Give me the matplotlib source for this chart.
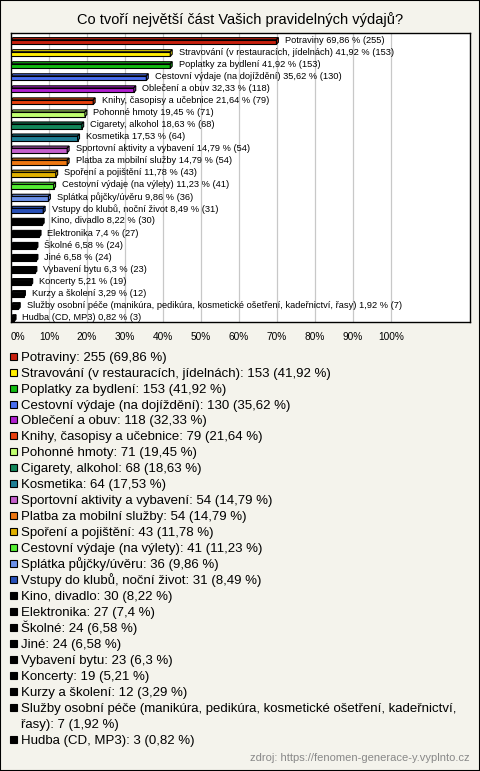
import matplotlib
matplotlib.use('Agg')
import matplotlib.pyplot as plt
from matplotlib.patches import Rectangle, Polygon

plt.rcParams['font.family'] = ['Liberation Sans', 'DejaVu Sans']

categories = [
    'Potraviny', 'Stravování (v restauracích, jídelnách)', 'Poplatky za bydlení',
    'Cestovní výdaje (na dojíždění)', 'Oblečení a obuv', 'Knihy, časopisy a učebnice',
    'Pohonné hmoty', 'Cigarety, alkohol', 'Kosmetika', 'Sportovní aktivity a vybavení',
    'Platba za mobilní služby', 'Spoření a pojištění', 'Cestovní výdaje (na výlety)',
    'Splátka půjčky/úvěru', 'Vstupy do klubů, noční život', 'Kino, divadlo',
    'Elektronika', 'Školné', 'Jiné', 'Vybavení bytu', 'Koncerty', 'Kurzy a školení',
    'Služby osobní péče (manikúra, pedikúra, kosmetické ošetření, kadeřnictví, řasy)',
    'Hudba (CD, MP3)',
]
counts = [255, 153, 153, 130, 118, 79, 71, 68, 64, 54, 54, 43, 41, 36, 31, 30,
          27, 24, 24, 23, 19, 12, 7, 3]
percents = [69.86, 41.92, 41.92, 35.62, 32.33, 21.64, 19.45, 18.63, 17.53, 14.79,
            14.79, 11.78, 11.23, 9.86, 8.49, 8.22, 7.4, 6.58, 6.58, 6.3, 5.21,
            3.29, 1.92, 0.82]
colors = ['#c8200e', '#ffee00', '#11bb11', '#4a6ff0', '#b020d0', '#e8400e',
          '#c0ff70', '#13875a', '#1f7f95', '#c560cc', '#ee7711', '#e0b000',
          '#55ee33', '#6b90e8', '#2850b8'] + ['#000000'] * 9
x_ticks = [0, 10, 20, 30, 40, 50, 60, 70, 80, 90, 100]

bg = '#f4f3ec'
W, H = 480, 771
fig = plt.figure(figsize=(W / 100, H / 100), dpi=100, facecolor=bg)
fig.patches.append(Rectangle((0, 0), 1, 1, transform=fig.transFigure,
                             fill=False, edgecolor='black', linewidth=1.5))


def pct(p):
    return f'{p:g}'.replace('.', ',')


fig.text(0.5, 1 - 20 / H, 'Co tvoří největší část Vašich pravidelných výdajů?',
         ha='center', va='center', fontsize=10.5)

ax = fig.add_axes([11 / W, 1 - 322 / H, 459 / W, 289 / H])
ax.set_facecolor('white')
for s in ax.spines.values():
    s.set_color('black')
    s.set_linewidth(1)

n = len(categories)
ax.set_xlim(0, 120.8)
ax.set_ylim(n - 1 + 0.33, -0.66)
for t in x_ticks[1:]:
    ax.axvline(t, color='#c8c8c8', linewidth=0.9, zorder=0)

# bars with a small 3d top/side face
h = 0.38
d = 0.17
dx = 0.5
for i, (p, c) in enumerate(zip(percents, colors)):
    y0 = i - h / 2 + d / 2
    ax.add_patch(Rectangle((0, y0), p, h, facecolor=c, edgecolor='black',
                           linewidth=0.8, zorder=3))
    ax.add_patch(Polygon([(0, y0), (p, y0), (p + dx, y0 - d), (dx, y0 - d)],
                         facecolor=c, edgecolor='black', linewidth=0.8, zorder=3))
    ax.add_patch(Polygon([(p, y0), (p + dx, y0 - d), (p + dx, y0 + h - d), (p, y0 + h)],
                         facecolor=c, edgecolor='black', linewidth=0.8, zorder=3))
    ax.annotate(f'{categories[i]} {pct(p)} % ({counts[i]})', (p, i),
                xytext=(6, 0.5), textcoords='offset points',
                ha='left', va='center', fontsize=6.7, zorder=4)

ax.set_xticks(x_ticks)
ax.set_xticklabels([f'{t}%' for t in x_ticks], fontsize=7.3)
ax.get_xticklabels()[0].set_ha('left')
ax.tick_params(axis='x', length=0, pad=7)
ax.set_yticks([])

# legend
base = 360.7
step = 15.95
for i in range(n):
    fig.patches.append(Rectangle((10 / W, 1 - (base - 1) / H), 7 / W, 7 / H,
                                 transform=fig.transFigure, facecolor=colors[i],
                                 edgecolor='black', linewidth=0.8))
    label = f'{categories[i]}: {counts[i]} ({pct(percents[i])} %)'
    if len(label) > 70:
        first, rest = label.split('kadeřnictví, ')
        fig.text(21 / W, 1 - base / H, first + 'kadeřnictví,', ha='left',
                 va='baseline', fontsize=9.5)
        base += step
        label = rest
    fig.text(21 / W, 1 - base / H, label, ha='left', va='baseline', fontsize=9.5)
    base += step

fig.text(470 / W, 1 - 758 / H, 'zdroj: https://fenomen-generace-y.vyplnto.cz',
         ha='right', va='center', fontsize=8, color='#888888')

fig.savefig('out.png', dpi=100, facecolor=bg)
